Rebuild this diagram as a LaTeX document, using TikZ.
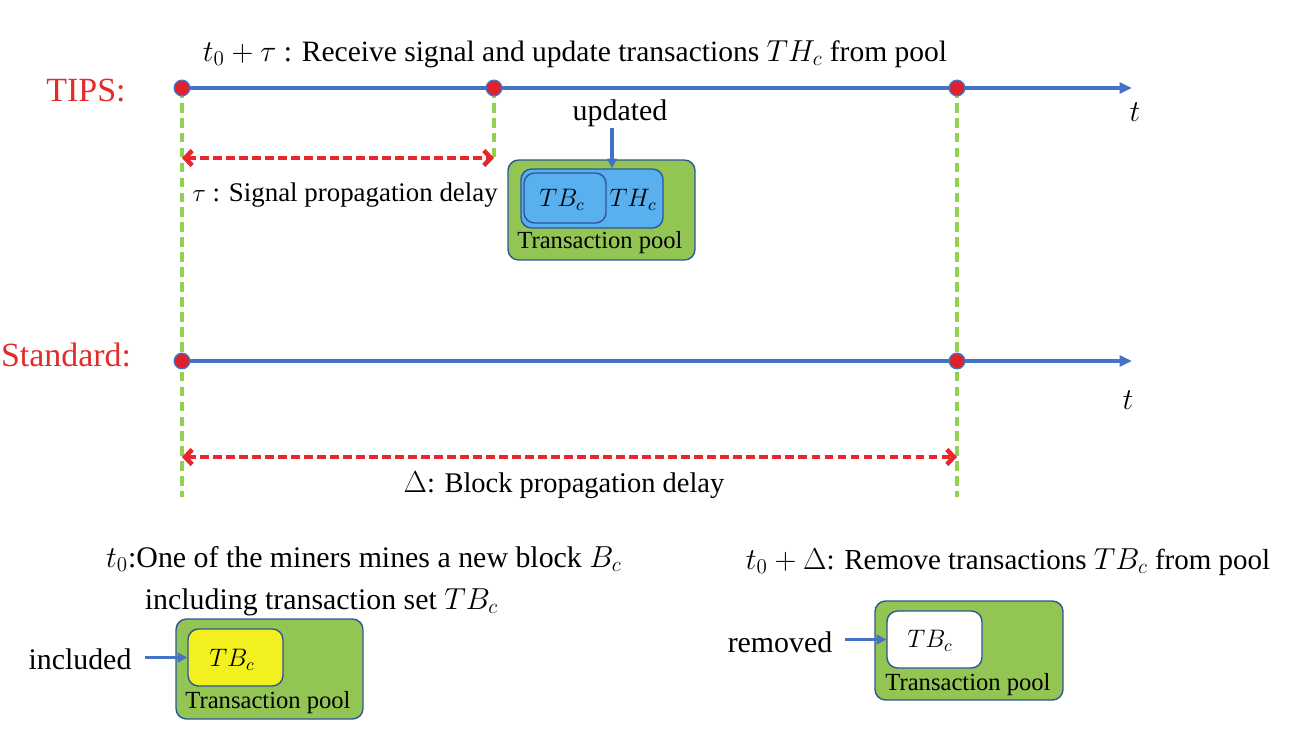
\documentclass[tikz,border=0pt]{standalone}
\usepackage{amsmath,amssymb}
\usepackage{fontspec}
\setmainfont{Liberation Serif}
\newfontfamily\labelfont{Liberation Serif}
\usetikzlibrary{arrows,arrows.meta,positioning,shapes}

\definecolor{lineblue}{HTML}{4472C4}
\definecolor{dotred}{HTML}{E0202A}
\definecolor{dashgreen}{HTML}{92D050}
\definecolor{arrred}{HTML}{E8262E}
\definecolor{poolgreen}{HTML}{92C553}
\definecolor{pooledge}{HTML}{2F5597}
\definecolor{txblue}{HTML}{58B0EE}
\definecolor{txyellow}{HTML}{F2F01E}
\definecolor{titlered}{HTML}{E32B2B}

\newcommand{\fsz}[1]{\labelfont\fontsize{#1}{24}\selectfont}

\tikzset{
  axis/.style={line width=2.1pt,draw=lineblue,-{Triangle[length=7pt,width=6pt]}},
  dot/.style={circle,fill=dotred,draw=lineblue,line width=0.8pt,inner sep=0pt,minimum size=0.31cm},
  guide/.style={draw=dashgreen,line width=2.1pt,dash pattern=on 5.5pt off 3pt},
  span/.style={draw=arrred,line width=2.6pt,dash pattern=on 5pt off 2.4pt,
    {Straight Barb[length=4pt,width=8.5pt]}-{Straight Barb[length=4pt,width=8.5pt]}},
  ptr/.style={draw=lineblue,line width=1.8pt,-{Triangle[length=5.5pt,width=5.5pt]}},
  pool/.style={draw=pooledge,fill=poolgreen,line width=0.8pt,rounded corners=6pt,inner sep=0pt},
  txbox/.style={draw=pooledge,line width=0.8pt,rounded corners=6pt,inner sep=0pt},
  small/.style={font=\fsz{14}},
  title/.style={text=titlered,font=\fsz{19.3}}
}

\begin{document}
\begin{tikzpicture}[x=0.02cm,y=-0.02cm,font=\fsz{17}]
\useasboundingbox (0,0) rectangle (1294,747);

% TIPS time line
\coordinate (p0) at (182,88);
\coordinate (p1) at (494,88);
\coordinate (p2) at (957,88);
\coordinate (tipsend) at (1132,88);
\coordinate (g0) at (182,497);
\coordinate (g1) at (497,158);
\coordinate (g2) at (957,497);
\draw[guide] (p0) -- (g0);
\draw[guide] (p1) -- (p1 |- g1);
\draw[guide] (p2) -- (g2);
\draw[axis] (p0) -- (tipsend);
\node[dot] (d0) at (p0) {};
\node[dot] (d1) at (p1) {};
\node[dot] (d2) at (p2) {};
\node[title] (tips) at (86,91) {TIPS:};
\node (tt) at (1135,112) {$t$};
\node[font=\fsz{16.8}] (recv) at (575,54) {$t_0+\tau$ : Receive signal and update transactions $TH_c$ from pool};

% signal delay
\coordinate (s0) at (182,158);
\draw[span] (s0) -- (p1 |- s0);
\node[font=\fsz{15.3}] (sig) at (345,195) {$\tau$ : Signal propagation delay};

% pool after update
\node[pool,minimum width=3.74cm,minimum height=2cm] (poolA) at (601.5,210) {};
\node[txbox,fill=txblue,minimum width=2.84cm,minimum height=1.18cm] (hbox) at (592,198.5) {};
\node[txbox,fill=txblue,minimum width=1.64cm,minimum height=1cm] (bboxA) at (565,198) {};
\node[small] at (562,200) {$TB_c$};
\node[small] at (633,200) {$TH_c$};
\node[small] at (600,243) {Transaction pool};
\node (upd) at (620,113) {updated};
\coordinate (updtop) at (612,128);
\draw[ptr] (updtop) -- (updtop |- hbox.north);

% Standard time line
\coordinate (q0) at (182,361);
\coordinate (q2) at (957,361);
\coordinate (stdend) at (1132,361);
\draw[axis] (q0) -- (stdend);
\node[dot] (e0) at (q0) {};
\node[dot] (e2) at (q2) {};
\node[title] (std) at (66,355) {Standard:};
\node (ts) at (1128,400) {$t$};

% block delay
\coordinate (b0) at (182,457);
\draw[span] (b0) -- (p2 |- b0);
\node[font=\fsz{16.2}] (blk) at (564,485) {$\Delta$: Block propagation delay};

% mined block
\node[anchor=west,align=left] (mine) at (100,581) {$t_0$:One of the miners mines a new block $B_c$\\\hspace*{22pt}including transaction set $TB_c$};
\node[pool,minimum width=3.74cm,minimum height=2cm] (poolB) at (269.5,669) {};
\node[txbox,fill=txyellow,minimum width=1.9cm,minimum height=1.14cm] (ybox) at (235.5,657.5) {};
\node[small] at (232,660) {$TB_c$};
\node[small] at (268,703) {Transaction pool};
\node (incl) at (80,659) {included};
\draw[ptr,shorten <=4pt] (incl.east |- ybox.west) -- (ybox.west);

% removed block
\node[font=\fsz{16.5}] (rem) at (1008,562) {$t_0+\Delta$: Remove transactions $TB_c$ from pool};
\node[pool,minimum width=3.76cm,minimum height=1.98cm] (poolC) at (969,650.5) {};
\node[txbox,fill=white,minimum width=1.9cm,minimum height=1.14cm] (wbox) at (934.5,639.5) {};
\node[small] at (930,641) {$TB_c$};
\node[small] at (968,685) {Transaction pool};
\node (rmv) at (780,642) {removed};
\draw[ptr,shorten <=4pt] (rmv.east |- wbox.west) -- (wbox.west);
\end{tikzpicture}
\end{document}
